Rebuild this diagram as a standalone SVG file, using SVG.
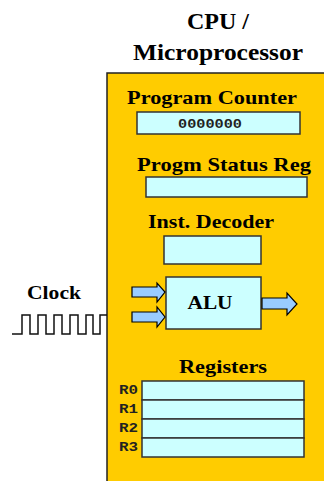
<svg xmlns="http://www.w3.org/2000/svg" width="324" height="481" viewBox="0 0 324 481">
<style>
.t{font-family:"Liberation Serif","Times New Roman",serif;font-weight:bold;fill:#000;text-anchor:middle}
.m{font-family:"Liberation Mono","Courier New",monospace;font-weight:bold;fill:#222}
.reg{fill:#CCFFFF;stroke:#333;stroke-width:1.5}
.arr{fill:#99CCFF;stroke:#000;stroke-width:1.2;stroke-linejoin:miter}
</style>
<rect width="324" height="481" fill="#fff"/>
<g id="title">
<text class="t" x="218" y="29" font-size="23" textLength="62" lengthAdjust="spacingAndGlyphs">CPU /</text>
<text class="t" x="218" y="60" font-size="23" textLength="170" lengthAdjust="spacingAndGlyphs">Microprocessor</text>
</g>
<g id="cpu">
<rect x="107" y="73" width="230" height="420" fill="#FFCC00" stroke="#222" stroke-width="1.5"/>
</g>
<g id="program-counter">
<text class="t" x="212" y="104" font-size="19" textLength="170" lengthAdjust="spacingAndGlyphs">Program Counter</text>
<rect class="reg" x="137" y="112" width="163" height="22"/>
<text class="m" x="210" y="128" font-size="12" text-anchor="middle" textLength="64" lengthAdjust="spacingAndGlyphs">0000000</text>
</g>
<g id="status-reg">
<text class="t" x="224" y="171" font-size="19" textLength="174" lengthAdjust="spacingAndGlyphs">Progm Status Reg</text>
<rect class="reg" x="146" y="177" width="161" height="20"/>
</g>
<g id="inst-decoder">
<text class="t" x="211" y="228" font-size="19" textLength="126" lengthAdjust="spacingAndGlyphs">Inst. Decoder</text>
<rect class="reg" x="164" y="236" width="97" height="28"/>
</g>
<g id="alu">
<rect class="reg" x="166" y="277" width="95" height="52"/>
<text class="t" x="210" y="309" font-size="19" textLength="45" lengthAdjust="spacingAndGlyphs">ALU</text>
</g>
<g id="connectors">
<path class="arr" d="M132,287 H157 V283 L165,292 L157,302 V297 H132 Z"/>
<path class="arr" d="M132,312 H157 V307 L165,317 L157,327 V322 H132 Z"/>
<path class="arr" d="M262,298 H287 V293 L297,304 L287,315 V309 H262 Z"/>
</g>
<g id="clock">
<text class="t" x="54" y="299" font-size="19" textLength="54" lengthAdjust="spacingAndGlyphs">Clock</text>
<path d="M12,334 H22 V315 H30 V334 H38 V315 H46 V334 H54 V315 H62 V334 H70 V315 H78 V334 H86 V315 H93 V334 H100 V315 H107" fill="none" stroke="#111" stroke-width="1.5"/>
</g>
<g id="registers">
<text class="t" x="223" y="373" font-size="19" textLength="88" lengthAdjust="spacingAndGlyphs">Registers</text>
<rect class="reg" x="142" y="381" width="162" height="19"/>
<rect class="reg" x="142" y="400" width="162" height="19"/>
<rect class="reg" x="142" y="419" width="162" height="19"/>
<rect class="reg" x="142" y="438" width="162" height="19"/>
<text class="m" x="119" y="394" font-size="12" textLength="19" lengthAdjust="spacingAndGlyphs">R0</text>
<text class="m" x="119" y="413" font-size="12" textLength="19" lengthAdjust="spacingAndGlyphs">R1</text>
<text class="m" x="119" y="432" font-size="12" textLength="19" lengthAdjust="spacingAndGlyphs">R2</text>
<text class="m" x="119" y="451" font-size="12" textLength="19" lengthAdjust="spacingAndGlyphs">R3</text>
</g>
</svg>
